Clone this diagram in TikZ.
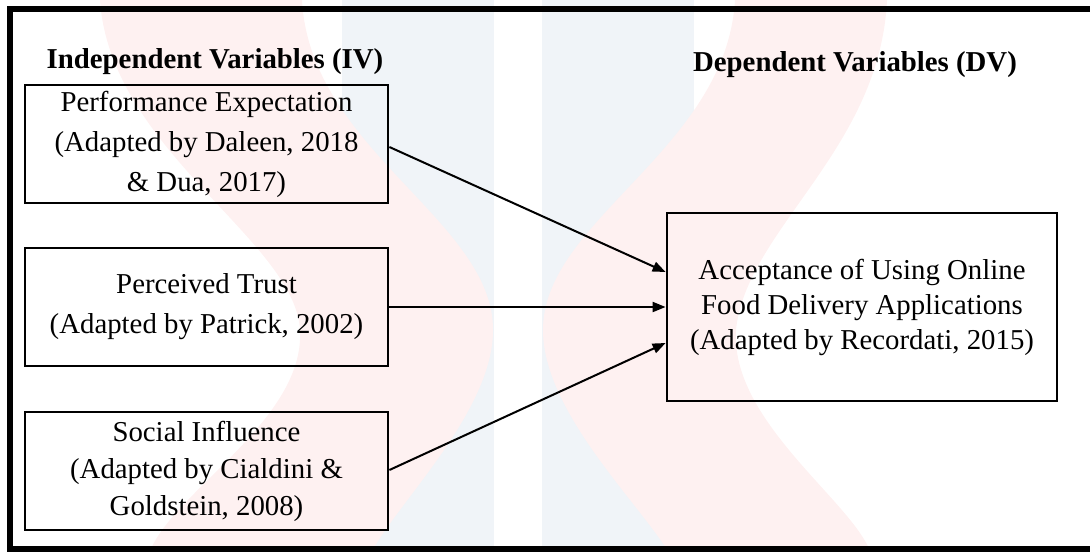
\documentclass[tikz,border=0pt]{standalone}
\usepackage{fontspec}
\setmainfont{Liberation Serif}
\usetikzlibrary{arrows.meta,calc}
\definecolor{wmpink}{HTML}{FEF1F1}
\definecolor{wmblue}{HTML}{F0F4F8}
\begin{document}
\begin{tikzpicture}[x=0.5pt,y=-0.5pt,
  varbox/.style={draw=black,line width=1.4pt,align=center,inner sep=0pt,
    minimum width=181.5pt,minimum height=59pt,
    font=\fontsize{14.4pt}{20pt}\selectfont},
  heading/.style={inner sep=0pt,font=\fontsize{14.4pt}{17pt}\selectfont\bfseries},
  link/.style={line width=1pt,-{Triangle[length=6.5pt,width=5pt]}}]
\useasboundingbox (0,0) rectangle (1090,551);
% watermark
\fill[wmblue] (342,0) rectangle (494,551);
\fill[wmblue] (542,0) rectangle (694,551);
\fill[wmpink] (100,0) -- (302,0) .. controls (310,150) and (493,220) .. (493,330)
  .. controls (493,410) and (400,500) .. (372,551) -- (150,551)
  .. controls (175,490) and (305,420) .. (300,330)
  .. controls (295,240) and (110,150) .. (100,0) -- cycle;
\fill[wmpink] (735,0) -- (887,0) .. controls (880,150) and (746,230) .. (736,330)
  .. controls (730,420) and (850,500) .. (870,551) -- (668,551)
  .. controls (636,500) and (543,410) .. (543,330)
  .. controls (543,220) and (726,150) .. (735,0) -- cycle;
% outer frame
\draw[line width=3pt] (1100,9) -- (9.5,9) -- (9.5,548.5) -- (1100,548.5);
% headings
\node[heading] (hiv) at (215,62) {Independent Variables (IV)};
\node[heading] (hdv) at (855,65) {Dependent Variables (DV)};
% boxes
\node[varbox] (b1) at (206.5,144) {Performance Expectation\\(Adapted by Daleen, 2018\\\& Dua, 2017)};
\node[varbox] (b2) at (206.5,307) {Perceived Trust\\(Adapted by Patrick, 2002)};
\node[varbox,font=\fontsize{14.4pt}{18.5pt}\selectfont] (b3) at (206.5,471) {Social Influence\\(Adapted by Cialdini \&\\Goldstein, 2008)};
\node[varbox,minimum width=195pt,minimum height=94pt,font=\fontsize{14.4pt}{17.5pt}\selectfont] (dv) at (862,307) {Acceptance of Using Online\\Food Delivery Applications\\(Adapted by Recordati, 2015)};
% connectors
\draw[link] ([yshift=-1.5pt]b1.east) -- ([yshift=17.5pt]dv.west);
\draw[link] (b2.east) -- (dv.west);
\draw[link] ([yshift=0.5pt]b3.east) -- ([yshift=-18pt]dv.west);
\end{tikzpicture}
\end{document}
